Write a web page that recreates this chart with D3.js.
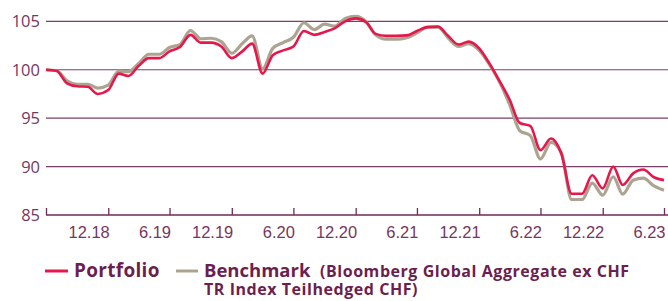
<!DOCTYPE html>
<html lang="de">
<head>
  <meta charset="UTF-8">
  <title>Portfolio vs Benchmark</title>
  <script src="https://d3js.org/d3.v7.min.js"></script>
  <style>
    body {
      margin: 0;
      background: #fff;
    }
    svg {
      display: block;
      font-family: "Open Sans", "Noto Sans", sans-serif;
    }
    .tick-label {
      fill: #77365f;
      font-size: 16.5px;
    }
    .legend {
      fill: #6b1f4f;
      font-weight: bold;
    }
  </style>
</head>
<body>
  <div id="chart"></div>

  <script>
    // Monthly values, end of month, June 2018 to June 2023
    const startMonth = new Date(2018, 5, 30);

    const portfolio = [
      100.0, 99.9, 98.6, 98.3, 98.25, 97.5, 97.9, 99.6, 99.35, 100.4,
      101.2, 101.2, 101.9, 102.35, 103.6, 102.8, 102.8, 102.4, 101.2, 101.9,
      102.7, 99.6, 101.5, 102.0, 102.4, 104.0, 103.6, 103.9, 104.3, 105.0,
      105.3, 104.9, 103.7, 103.5, 103.5, 103.55, 104.0, 104.4, 104.45, 103.5,
      102.6, 102.9, 102.2, 100.6, 98.9, 96.9, 94.5, 94.2, 91.7, 92.9,
      91.3, 87.2, 87.2, 89.1, 87.75, 90.0, 88.1, 89.3, 89.7, 88.9,
      88.6
    ];

    const benchmark = [
      100.0, 99.9, 98.85, 98.5, 98.5, 98.1, 98.4, 99.85, 99.8, 100.65,
      101.6, 101.6, 102.3, 102.6, 104.05, 103.2, 103.25, 102.9, 101.7, 102.7,
      103.5, 100.1, 102.2, 102.8, 103.35, 104.85, 104.15, 104.7, 104.5, 105.3,
      105.5, 104.95, 103.6, 103.15, 103.15, 103.3, 103.8, 104.4, 104.4, 103.3,
      102.4, 102.7, 102.0, 100.5, 98.8, 96.4, 93.7, 93.2, 90.8, 92.5,
      91.4, 86.6, 86.6, 88.3, 87.05, 88.95, 87.15, 88.6, 88.8, 88.0,
      87.55
    ];

    const yTicks = [85, 90, 95, 100, 105];
    const xTickLabels = ['12.18', '6.19', '12.19', '6.20', '12.20', '6.21', '12.21', '6.22', '12.22', '6.23'];

    const width = 668;
    const height = 301;
    const margin = { top: 21.3, right: 0, bottom: 86, left: 46 };

    const svg = d3.select('#chart')
      .append('svg')
      .attr('width', width)
      .attr('height', height);

    const monthEnd = i => new Date(2018, 6 + i, 0);
    const dates = portfolio.map((d, i) => monthEnd(i));

    const xScale = d3.scaleTime()
      .domain([startMonth, new Date(2023, 5, 30)])
      .range([margin.left, 664]);

    const yScale = d3.scaleLinear()
      .domain([85, 105])
      .range([height - margin.bottom, margin.top]);

    // grid lines
    svg.append('g')
      .selectAll('line')
      .data(yTicks.slice(1))
      .join('line')
      .attr('x1', margin.left)
      .attr('x2', width)
      .attr('y1', d => yScale(d))
      .attr('y2', d => yScale(d))
      .attr('stroke', '#7a3f68')
      .attr('stroke-width', 1.2);

    // y labels
    svg.append('g')
      .selectAll('text')
      .data(yTicks)
      .join('text')
      .attr('class', 'tick-label')
      .attr('x', 40)
      .attr('y', d => yScale(d))
      .attr('dy', '0.36em')
      .attr('text-anchor', 'end')
      .text(d => d);

    // x axis: ticks every six months, labels right-aligned at the tick
    const tickDates = [startMonth].concat(xTickLabels.map((l, i) => monthEnd(6 + i * 6)));
    const xAxis = d3.axisBottom(xScale)
      .tickValues(tickDates)
      .tickSizeInner(-7)
      .tickSizeOuter(0)
      .tickFormat((d, i) => i === 0 ? '' : xTickLabels[i - 1]);

    const gx = svg.append('g')
      .attr('transform', `translate(0, ${yScale(85)})`)
      .call(xAxis);
    gx.select('.domain')
      .attr('stroke', '#6e2a58')
      .attr('stroke-width', 1.5)
      .attr('d', `M${margin.left},0H${width}`);
    gx.selectAll('.tick line')
      .attr('stroke', '#6e2a58')
      .attr('stroke-width', 1.3);
    gx.selectAll('.tick text')
      .attr('class', 'tick-label')
      .attr('text-anchor', 'end')
      .attr('x', 1)
      .attr('y', 11)
      .attr('dy', '0.71em')
      .attr('font-family', null)
      .attr('font-size', null);

    // lines
    const line = d3.line()
      .x((d, i) => xScale(dates[i]))
      .y(d => yScale(d))
      .curve(d3.curveMonotoneX);

    svg.append('path')
      .datum(benchmark)
      .attr('fill', 'none')
      .attr('stroke', '#aca491')
      .attr('stroke-width', 3.2)
      .attr('stroke-linejoin', 'round')
      .attr('d', line);

    svg.append('path')
      .datum(portfolio)
      .attr('fill', 'none')
      .attr('stroke', '#e5174b')
      .attr('stroke-width', 2.6)
      .attr('stroke-linejoin', 'round')
      .attr('d', line);

    // legend
    const legend = svg.append('g');
    legend.append('line')
      .attr('x1', 45).attr('x2', 68)
      .attr('y1', 271).attr('y2', 271)
      .attr('stroke', '#e5174b')
      .attr('stroke-width', 3);
    legend.append('text')
      .attr('class', 'legend')
      .attr('x', 74)
      .attr('y', 277)
      .attr('font-size', 19)
      .attr('letter-spacing', 0.3)
      .text('Portfolio');
    legend.append('line')
      .attr('x1', 176).attr('x2', 198)
      .attr('y1', 271).attr('y2', 271)
      .attr('stroke', '#aca491')
      .attr('stroke-width', 3);
    const bench = legend.append('text')
      .attr('class', 'legend')
      .attr('y', 277);
    bench.append('tspan')
      .attr('x', 204)
      .attr('font-size', 18.5)
      .text('Benchmark');
    bench.append('tspan')
      .attr('x', 320)
      .attr('font-size', 16)
      .attr('letter-spacing', 0.55)
      .text('(Bloomberg Global Aggregate ex CHF');
    bench.append('tspan')
      .attr('x', 204)
      .attr('y', 295)
      .attr('font-size', 16)
      .attr('letter-spacing', 0.55)
      .text('TR Index Teilhedged CHF)');
  </script>
</body>
</html>
